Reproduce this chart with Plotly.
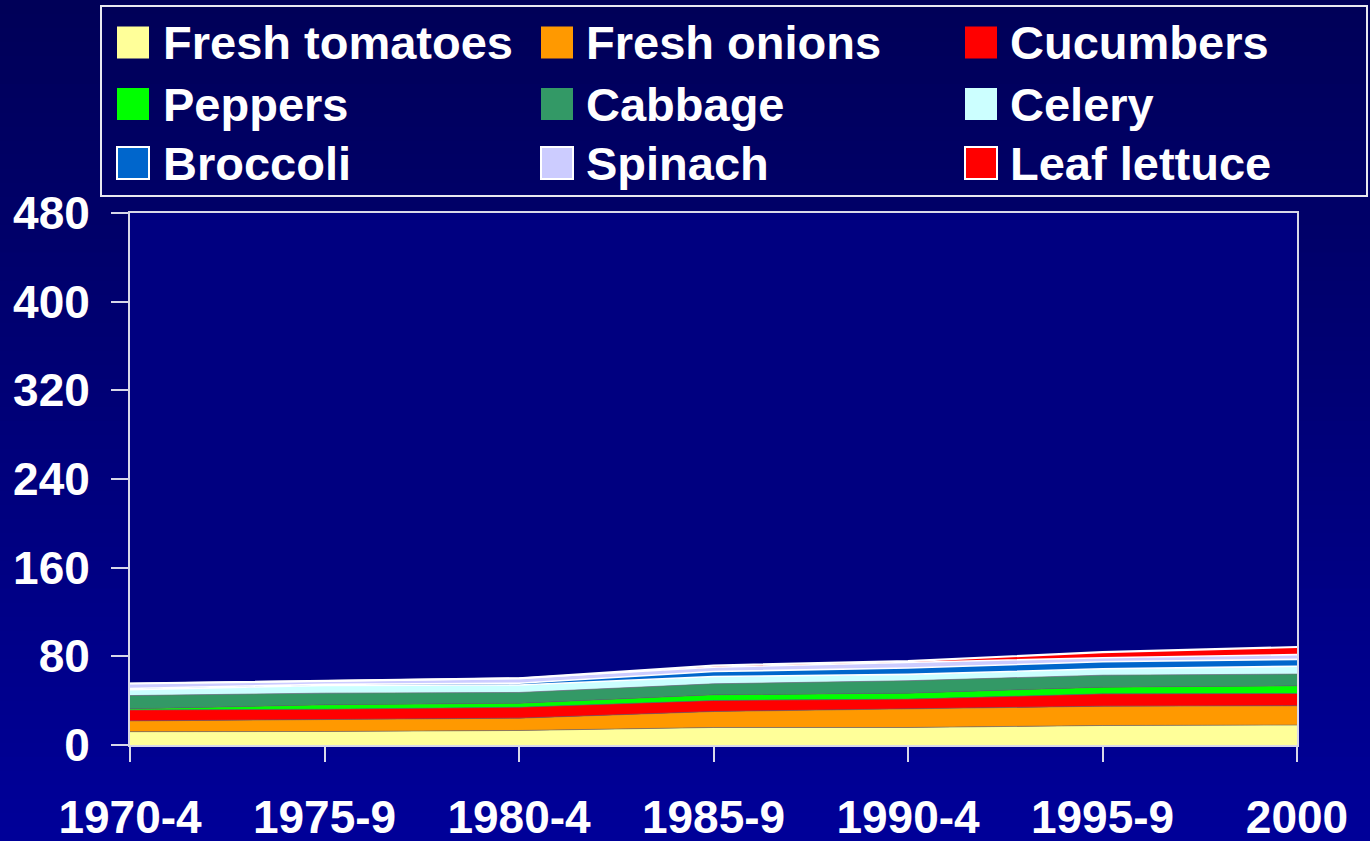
import plotly.graph_objects as go

# ---- data ----
periods = ["1970-4", "1975-9", "1980-4", "1985-9", "1990-4", "1995-9", "2000"]
series_names = ["Fresh tomatoes", "Fresh onions", "Cucumbers", "Peppers", "Cabbage",
                "Celery", "Broccoli", "Spinach", "Leaf lettuce"]
tomatoes = [12.0, 12.2, 13.1, 15.8, 15.8, 17.6, 18.0]
onions = [9.7, 10.5, 11.1, 14.4, 16.6, 17.4, 17.4]
cucumbers = [9.9, 9.6, 9.9, 10.0, 9.0, 11.2, 11.1]
peppers = [1.0, 4.0, 3.6, 5.1, 5.4, 6.0, 6.9]
cabbage = [12.0, 10.5, 9.7, 9.9, 11.2, 10.8, 10.6]
celery = [5.4, 6.9, 6.8, 6.6, 5.7, 5.8, 7.0]
broccoli = [1.0, 1.0, 1.5, 4.5, 5.8, 6.3, 6.3]
spinach = [4.5, 3.0, 4.5, 3.9, 4.7, 3.6, 4.2]
leaf_lettuce = [0.0, 0.0, 0.0, 1.5, 1.5, 5.1, 6.9]
y_ticks = [0, 80, 160, 240, 320, 400, 480]

values = [tomatoes, onions, cucumbers, peppers, cabbage, celery, broccoli, spinach, leaf_lettuce]

# ---- styles ----
colors = ["#FFFF99", "#FF9900", "#FF0000", "#00FF00", "#339966",
          "#CCFFFF", "#0066CC", "#CCCCFF", "#FF0000"]
line_colors = ["rgba(110,110,110,0.8)"] * 5 + ["#FFFFFF"] * 4
line_widths = [0.8] * 5 + [1.6, 1.6, 1.6, 2.2]
white_border = [False] * 6 + [True] * 3

W, H = 1370, 841
L, R, T, B = 130, 1297, 213, 745
FONT = "Arial, Liberation Sans, sans-serif"


def px(x):
    return (x - L) / (R - L)


def py(y):
    return (B - y) / (B - T)


fig = go.Figure()
for name, vals, c, lc, lw in zip(series_names, values, colors, line_colors, line_widths):
    fig.add_trace(go.Scatter(
        x=periods, y=vals, name=name, mode="lines", stackgroup="one",
        fillcolor=c, line=dict(color=lc, width=lw), showlegend=False,
        hovertemplate="%{x}: %{y}<extra>" + name + "</extra>"))

shapes = []
# background gradient
n = 60
top_c = (0, 0, 88)
bot_c = (0, 0, 152)
for i in range(n):
    t = i / (n - 1)
    col = tuple(int(round(a + (b - a) * t)) for a, b in zip(top_c, bot_c))
    y0 = i * H / n
    y1 = (i + 1) * H / n + 1
    shapes.append(dict(type="rect", xref="paper", yref="paper", layer="below",
                       x0=px(0), x1=px(W), y0=py(y1), y1=py(y0),
                       fillcolor="rgb(%d,%d,%d)" % col, line=dict(width=0)))
# plot area fill
shapes.append(dict(type="rect", xref="paper", yref="paper", layer="below",
                   x0=0, x1=1, y0=0, y1=1, fillcolor="#000080", line=dict(width=0)))
# legend box
shapes.append(dict(type="rect", xref="paper", yref="paper", layer="above",
                   x0=px(101), x1=px(1367), y0=py(196), y1=py(6),
                   fillcolor="rgba(0,0,0,0)", line=dict(color="#E8E8F0", width=2)))

annotations = []
col_sq_x = [117, 541, 965]
col_tx_x = [161, 584, 1008]
row_y = [42.5, 104, 163]
sq = 32
for k, (name, c) in enumerate(zip(series_names, colors)):
    r, cidx = divmod(k, 3)
    cx = col_sq_x[cidx]
    cy = row_y[r]
    shapes.append(dict(type="rect", xref="paper", yref="paper", layer="above",
                       x0=px(cx), x1=px(cx + sq), y0=py(cy + sq / 2), y1=py(cy - sq / 2),
                       fillcolor=c,
                       line=dict(color="#FFFFFF" if white_border[k] else c,
                                 width=2 if white_border[k] else 0)))
    annotations.append(dict(xref="paper", yref="paper", x=px(col_tx_x[cidx]), y=py(cy),
                            xanchor="left", yanchor="middle", showarrow=False,
                            text="<b>%s</b>" % name,
                            font=dict(family=FONT, size=47, color="#FFFFFF")))

fig.update_layout(
    width=W, height=H,
    margin=dict(l=L, r=W - R, t=T, b=H - B, pad=0),
    paper_bgcolor="#000070",
    plot_bgcolor="rgba(0,0,0,0)",
    showlegend=False,
    shapes=shapes,
    annotations=annotations,
    font=dict(family=FONT, color="#FFFFFF"),
    xaxis=dict(
        type="category", categoryorder="array", categoryarray=periods,
        range=[0, len(periods) - 1], showgrid=False, zeroline=False, automargin=False,
        showline=True, linecolor="#D8D8E8", linewidth=2, mirror=True,
        ticks="outside", ticklen=15, tickwidth=1.5, tickcolor="#D8D8E8",
        tickfont=dict(family=FONT, size=46, color="#FFFFFF", weight="bold"),
        ticklabelstandoff=16,
    ),
    yaxis=dict(
        range=[0, 480], tickmode="array", tickvals=y_ticks,
        ticktext=[str(v) for v in y_ticks], showgrid=False, zeroline=False, automargin=False,
        showline=True, linecolor="#D8D8E8", linewidth=2, mirror=True,
        ticks="outside", ticklen=17, tickwidth=1.5, tickcolor="#D8D8E8",
        tickfont=dict(family=FONT, size=46, color="#FFFFFF", weight="bold"),
        ticklabelstandoff=12,
    ),
)

fig.write_html("out.html", config={"displayModeBar": False},
               post_script="document.body.style.margin='0';document.body.style.overflow='hidden';")
